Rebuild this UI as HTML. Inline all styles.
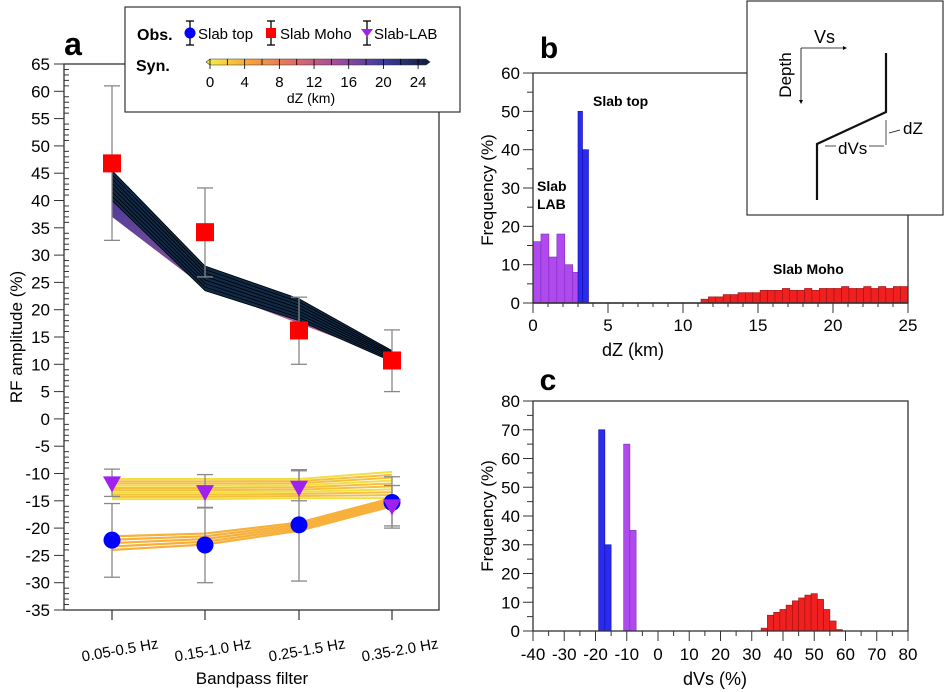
<!DOCTYPE html>
<html><head><meta charset="utf-8"><style>
html,body{margin:0;padding:0;background:#fff;}
svg{display:block;font-family:"Liberation Sans",sans-serif;}
</style></head><body>
<svg id="s" width="945" height="692" viewBox="0 0 945 692" xmlns="http://www.w3.org/2000/svg">
<defs>
<linearGradient id="cb" x1="0" x2="1" y1="0" y2="0">
<stop offset="0" stop-color="#f5f24a"/><stop offset="0.2" stop-color="#f7a23a"/><stop offset="0.4" stop-color="#e06a6a"/><stop offset="0.6" stop-color="#9a4aa0"/><stop offset="0.8" stop-color="#3a3a9a"/><stop offset="1" stop-color="#0d1e3a"/>
</linearGradient>
<linearGradient id="pb" x1="0" x2="0" y1="0" y2="1">
<stop offset="0" stop-color="#4a3a9a"/><stop offset="1" stop-color="#c06a90"/>
</linearGradient>
</defs>
<g id="g"></g>
</svg>
<script>
const g=document.getElementById('g');let h='';
const L=(x1,y1,x2,y2,c='#000',w=1)=>h+=`<line x1="${x1}" y1="${y1}" x2="${x2}" y2="${y2}" stroke="${c}" stroke-width="${w}"/>`;
const T=(x,y,t,s=16,a='middle',extra='')=>h+=`<text x="${x}" y="${y}" font-size="${s}" text-anchor="${a}" ${extra}>${t}</text>`;
const R=(x,y,w,hh,f,st='none')=>h+=`<rect x="${x}" y="${y}" width="${w}" height="${hh}" fill="${f}" stroke="${st}" stroke-width="0.6"/>`;
// ---- Panel a
const ya=v=>64+(65-v)*5.46;const xs=[112,205,299,392];
h+=`<polygon points="112,${ya(41)} 205,${ya(23.5)} 299,${ya(18)} 392,${ya(10.5)} 392,${ya(11)} 205,${ya(24)} 112,${ya(37)}" fill="url(#pb)"/>`;
h+=`<polygon points="112,${ya(45.5)} 205,${ya(28)} 299,${ya(22)} 392,${ya(12.5)} 392,${ya(10.5)} 299,${ya(18)} 205,${ya(23.5)} 112,${ya(40)}" fill="#102a48"/>`;
for(let i=0;i<8;i++){const f=i/7;const p=[45.5-f*5.5,28-f*4.5,22-f*4,12.5-f*2];h+=`<polyline points="${xs.map((x,j)=>x+','+ya(p[j])).join(' ')}" fill="none" stroke="#000" stroke-width="0.8"/>`;}
for(let i=0;i<10;i++){const f=i/9;const p=[-11-f*3.7,-11-f*3.7,-11-f*3.5,-9.7-f*4.8];h+=`<polyline points="${xs.map((x,j)=>x+','+ya(p[j])).join(' ')}" fill="none" stroke="${i%3==0?'#f0e040':'#f5c040'}" stroke-width="2"/>`;}
for(let i=0;i<5;i++){const f=i/4;const p=[-21.5-f*2.5,-21-f*2,-19-f*1.5,-14.5-f*1.5];h+=`<polyline points="${xs.map((x,j)=>x+','+ya(p[j])).join(' ')}" fill="none" stroke="#f7b03a" stroke-width="2.2"/>`;}
const eb=(x,a,b)=>{L(x,ya(a),x,ya(b),'#888',1.3);L(x-8,ya(a),x+8,ya(a),'#888',1.3);L(x-8,ya(b),x+8,ya(b),'#888',1.3);};
[[61,32.7],[42.3,26],[22.3,10],[16.3,5]].forEach((e,i)=>eb(xs[i],e[0],e[1]));
[[-15.5,-29],[-16.3,-30],[-9.5,-29.7],[-12.2,-20]].forEach((e,i)=>eb(xs[i],e[0],e[1]));
[[-9.2,-14.2],[-10.2,-16.2],[-9.3,-15],[-10.6,-19.6]].forEach((e,i)=>eb(xs[i],e[0],e[1]));
[46.8,34.2,16.2,10.7].forEach((v,i)=>R(xs[i]-9,ya(v)-9,18,18,'#f00'));
[-22.2,-23.1,-19.4,-15.3].forEach((v,i)=>h+=`<circle cx="${xs[i]}" cy="${ya(v)}" r="8.5" fill="#00f"/>`);
[-11.8,-13.4,-12.6,-16].forEach((v,i)=>{const y=ya(v);h+=`<polygon points="${xs[i]-9},${y-7} ${xs[i]+9},${y-7} ${xs[i]},${y+9}" fill="#a020f0"/>`;});
h+=`<rect x="64" y="64" width="375" height="546" fill="none" stroke="#333" stroke-width="1.3"/>`;
for(let v=-35;v<=65;v++){const y=ya(v);const m=v%5==0;L(m?54:64,y,m?64:69,y,'#333',1);if(m)T(50,y+6,v,17,'end');}
xs.forEach((x,i)=>{L(x,610,x,620,'#333',1.2);T(x+8,655,['0.05-0.5 Hz','0.15-1.0 Hz','0.25-1.5 Hz','0.35-2.0 Hz'][i],15,'middle',`transform="rotate(-10 ${x+8} 650)"`);});
T(252,684,'Bandpass filter',17);
T(22,337,'RF amplitude (%)',17,'middle','transform="rotate(-90 22 337)"');
T(73,55,'a',32,'middle','font-weight="bold"');
h+=`<rect x="125" y="7" width="335" height="105" fill="#fff" stroke="#333" stroke-width="1.2"/>`;
T(137,40,'Obs.',16,'start','font-weight="bold"');T(136,71,'Syn.',16,'start','font-weight="bold"');
const lg=(x,s)=>{L(x,21,x,45,'#000',1.3);L(x-4,21,x+4,21,'#000',1.3);L(x-4,45,x+4,45,'#000',1.3);};
lg(190);h+=`<circle cx="190" cy="33" r="5.5" fill="#00f"/>`;T(198,39,'Slab top',15,'start');
lg(271);R(266,28,10,10,'#f00');T(280,39,'Slab Moho',15,'start');
lg(367);h+=`<polygon points="361,29 373,29 367,37" fill="#a020f0"/>`;T(374,39,'Slab-LAB',15,'start');
h+=`<polygon points="210,59 426,59 430,62 426,65 210,65 206,62" fill="url(#cb)" stroke="#333" stroke-width="0.6"/>`;
for(let v=0;v<=24;v+=2){const x=210+v*8.67;L(x,59,x,v%4==0?69:65,'#000',0.8);if(v%4==0)T(x,87,v,15);}
T(311,103,'dZ (km)',14);
// ---- Panel b
const xb=v=>533+v*15,yb=v=>303-v*3.833;
[16,18,12,18,10,8].forEach((v,i)=>R(xb(i*0.53),yb(v),0.53*15,yb(0)-yb(v),'#b04af0','#7a30b0'));
R(xb(3.0),yb(50),xb(3.3)-xb(3.0),yb(0)-yb(50),'#2a2af0','#1010a0');R(xb(3.3),yb(40),xb(3.7)-xb(3.3),yb(0)-yb(40),'#2a2af0','#1010a0');
const rm=[1,1.6,1.6,2.2,2.2,2.7,2.7,2.7,3.3,3.3,3.3,3.8,3.3,3.3,3.8,3.3,3.8,3.8,3.8,4.3,3.8,3.8,4.3,3.8,4.3,3.8,4.3,4.3];
rm.forEach((v,i)=>R(xb(11.2+i*0.493),yb(v),0.493*15,yb(0)-yb(v),'#f02020','#a01010'));
L(533,303,908,303,'#333',1.5);
h+=`<polyline points="747,73 533,73 533,303 908,303 908,215" fill="none" stroke="#333" stroke-width="1.3"/>`;
for(let v=0;v<=60;v+=5){const y=yb(v);L(533,y,v%10==0?523:527,y,'#333',1);if(v%10==0)T(520,y+6,v,17,'end');}
for(let v=0;v<=25;v++){const x=xb(v);L(x,303,x,v%5==0?313:307,'#333',1);if(v%5==0)T(x,331,v,17);}
T(633,356,'dZ (km)',18);
T(493,190,'Frequency (%)',17,'middle','transform="rotate(-90 493 190)"');
T(549,58,'b',30,'middle','font-weight="bold"');
T(593,106,'Slab top',14,'start','font-weight="bold"');
T(537,191,'Slab',14,'start','font-weight="bold"');T(537,209,'LAB',14,'start','font-weight="bold"');
T(773,274,'Slab Moho',14,'start','font-weight="bold"');
// inset
h+=`<rect x="747" y="1" width="196" height="214" fill="#fff" stroke="#333" stroke-width="1.2"/>`;
T(814,43,'Vs',18,'start');
L(801,48,843,48,'#000',0.8);h+=`<polygon points="843,46 847,48 843,50" fill="#000"/>`;
L(801,48,801,102,'#000',0.8);h+=`<polygon points="799,100 801,104 803,100" fill="#000"/>`;
T(791,75,'Depth',17,'middle','transform="rotate(-90 791 75)"');
h+=`<polyline points="886,53 886,112 817,144 817,200" fill="none" stroke="#111" stroke-width="2.2"/>`;
T(903,134,'dZ',17,'start');T(838,154,'dVs',17,'start');
L(886,120,886,145,'#000',0.7);L(889,133,900,130,'#000',0.7);L(825,146,836,146,'#000',0.7);L(869,146,884,146,'#000',0.7);
// ---- Panel c
const xc=v=>533+(v+40)*3.125,yc=v=>631-v*2.875;
const bar=(a,b,v,f,s)=>R(xc(a),yc(v),xc(b)-xc(a),yc(0)-yc(v),f,s);
bar(-19,-17,70,'#2a2af0','#1010a0');bar(-17,-15,30,'#2a2af0','#1010a0');
bar(-11,-9,65,'#b04af0','#7a30b0');bar(-9,-7,35,'#b04af0','#7a30b0');
[1,5.5,6.5,7.5,9,10.5,11.5,12.5,13,11,7.5,3.5,0.5].forEach((v,i)=>bar(33+i*2,35+i*2,v,'#f02020','#a01010'));
h+=`<rect x="533" y="401" width="375" height="230" fill="none" stroke="#333" stroke-width="1.3"/>`;
for(let v=0;v<=80;v+=5){const y=yc(v);L(533,y,v%10==0?523:527,y,'#333',1);if(v%10==0)T(520,y+6,v,17,'end');}
for(let v=-40;v<=80;v+=5){const x=xc(v);L(x,631,x,v%10==0?641:636,'#333',1);if(v%10==0)T(x,660,v,17);}
T(715,685,'dVs (%)',18);
T(493,516,'Frequency (%)',17,'middle','transform="rotate(-90 493 516)"');
T(548,390,'c',30,'middle','font-weight="bold"');
g.innerHTML=h;
</script>
</body></html>
